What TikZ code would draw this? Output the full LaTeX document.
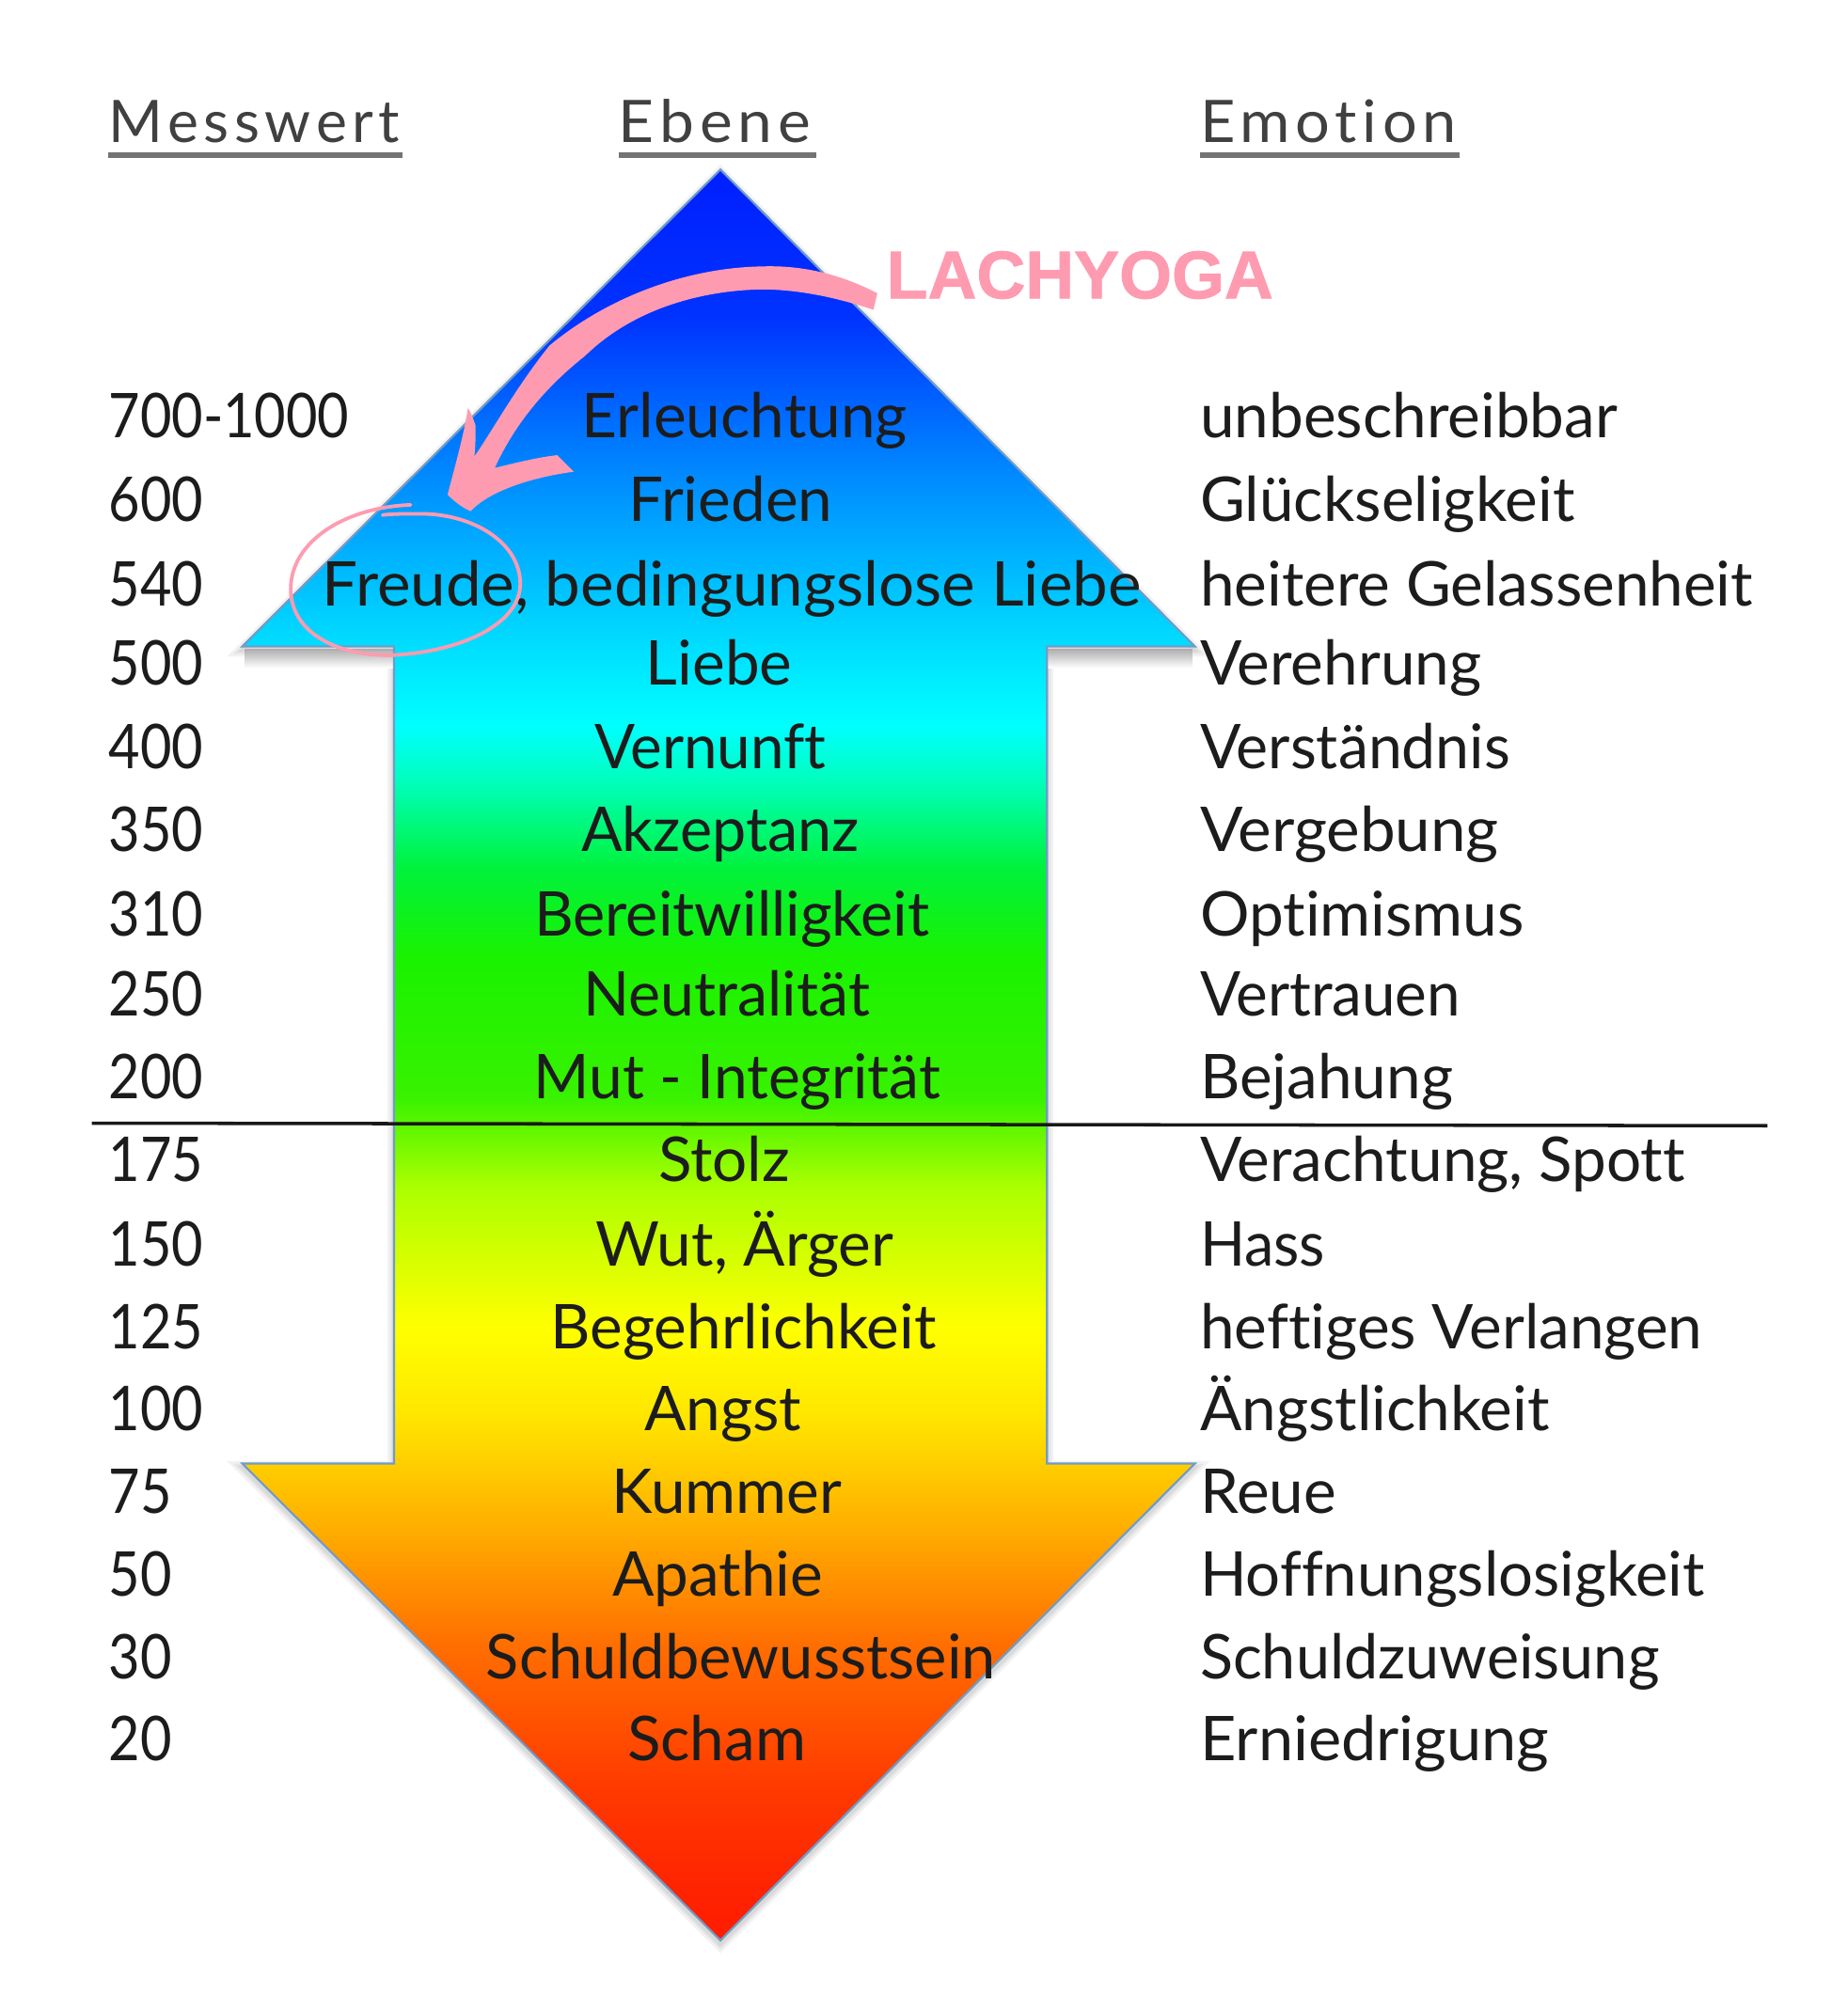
\documentclass[tikz,border=0pt]{standalone}
\usepackage{fontspec}
\setmainfont[Ligatures=NoCommon]{Lato}
\newfontfamily\headfont[LetterSpace=9,Ligatures=NoCommon]{Lato}
\newfontfamily\digitfont[FakeStretch=0.88,Numbers=Lining]{Lato}
\newfontfamily\lachfont[FakeBold=1.1]{Liberation Sans}
\usetikzlibrary{calc}
\definecolor{pinkmark}{HTML}{FF9BB0}
\definecolor{textdark}{HTML}{1C1C1C}
\definecolor{edgeblue}{HTML}{6F9CC8}
\pgfdeclareverticalshading{rainbowarrow}{100bp}{
rgb(0bp)=(1,.11,0);
rgb(25bp)=(1,.11,0);
rgb(26.5bp)=(1,.14,0);
rgb(29.4bp)=(1,.23,0);
rgb(33.3bp)=(1,.43,0);
rgb(36.9bp)=(1,.70,0);
rgb(39.8bp)=(1,.90,0);
rgb(42.3bp)=(1,1,0);
rgb(46.3bp)=(.67,1,0);
rgb(48.8bp)=(.22,.95,0);
rgb(52.8bp)=(.10,.95,0);
rgb(55.3bp)=(0,.95,.24);
rgb(57.8bp)=(0,1,.75);
rgb(59.3bp)=(0,1,1);
rgb(61.4bp)=(0,.88,1);
rgb(65.4bp)=(0,.61,1);
rgb(67.9bp)=(0,.43,1);
rgb(70.8bp)=(0,.20,1);
rgb(75bp)=(0,.12,1);
rgb(100bp)=(0,.12,1)}
\tikzset{
  rowtext/.style={font=\fontsize{48.4}{54}\selectfont, text=textdark, inner sep=0pt},
  leftcol/.style={rowtext, anchor=base west},
  numcol/.style={rowtext, font=\digitfont\fontsize{48.4}{54}\selectfont, anchor=base west},
  midcol/.style={rowtext, anchor=base},
  head/.style={font=\headfont\fontsize{46}{52}\selectfont, text=black!75, inner sep=0pt, anchor=base west},
  headline/.style={draw=black!55, line width=4.5pt},
  pinkfill/.style={fill=pinkmark, draw=none},
  pinkline/.style={draw=pinkmark, line width=2.8pt, line cap=round, fill=none},
  softedge/.style={draw=black, opacity=.05, line join=miter, fill=none}
}
\newcommand{\arrowoutline}{(565,133) -- (937,507) -- (821,507) -- (821,1148) -- (937,1148) -- (565,1522) -- (190,1148) -- (309,1148) -- (309,507) -- (190,507) -- cycle}
\newcommand{\sx}[2]{\scalebox{#1}[1]{#2}}
\begin{document}
\begin{tikzpicture}[x=1pt,y=-1pt]
\useasboundingbox (0,0) rectangle (1449,1568);
\fill[white] (0,0) rectangle (1449,1568);
% headers
\node[head] (hM) at (85,112) {Messwert};
\node[head] (hE) at (485,112) {\sx{1.055}{Ebene}};
\node[head] (hF) at (941,112) {\sx{1.04}{Emotion}};
\coordinate (uM1) at (85,122); \coordinate (uM2) at (316,122);
\coordinate (uE1) at (485,122); \coordinate (uE2) at (640,122);
\coordinate (uF1) at (941,122); \coordinate (uF2) at (1145,122);
\draw[headline] (uM1) -- (uM2);
\draw[headline] (uE1) -- (uE2);
\draw[headline] (uF1) -- (uF2);
% soft shadows
\begin{scope}[yshift=-3pt]
\draw[softedge, line width=10pt] \arrowoutline;
\draw[softedge, line width=6pt] \arrowoutline;
\draw[softedge, line width=3pt] \arrowoutline;
\end{scope}
\shade[top color=black!32, bottom color=white] (192,509) rectangle (309,524);
\shade[top color=black!32, bottom color=white] (821,509) rectangle (935,524);
% arrow
\path[shading=rainbowarrow, draw=edgeblue, line width=1.6pt, line join=miter] \arrowoutline;
% divider
\coordinate (divL) at (72,881); \coordinate (divR) at (1386,883);
\draw[black!90, line width=2.6pt] (divL) -- (divR);
% rows: left column
\foreach \nm/\t/\yy/\xx in {a/700-1000/343/85, b/600/409/85, c/540/475/85, d/500/537/85, e/400/603/85, f/350/668/85, g/310/734/85, h/250/797/85, i/200/862/85, j/175/927/85, k/150/993/85, l/125/1058/85, m/100/1122/85, n/75/1187/85, o/50/1252/85, p/30/1317/85, q/20/1381/85}
  \node[numcol] (m\nm) at (\xx,\yy) {\t};
% rows: middle column
\node[midcol] (ea) at (584,343) {Erleuchtung};
\node[midcol] (eb) at (573,409) {Frieden};
\node[midcol] (ec) at (574,475) {\sx{1.025}{Freude, bedingungslose Liebe}};
\node[midcol] (ed) at (564,537) {Liebe};
\node[midcol] (ee) at (557,603) {\sx{.97}{Vernunft}};
\node[midcol] (ef) at (565,668) {\sx{.985}{Akzeptanz}};
\node[midcol] (eg) at (574,734) {\sx{.985}{Bereitwilligkeit}};
\node[midcol] (eh) at (570,797) {\sx{.98}{Neutralität}};
\node[midcol] (ei) at (578,862) {\sx{.975}{Mut - Integrität}};
\node[midcol] (ej) at (568,927) {Stolz};
\node[midcol] (ek) at (584,993) {Wut, Ärger};
\node[midcol] (el) at (583,1058) {Begehrlichkeit};
\node[midcol] (em) at (567,1122) {Angst};
\node[midcol] (en) at (570,1187) {Kummer};
\node[midcol] (eo) at (563,1252) {Apathie};
\node[midcol] (ep) at (581,1317) {\sx{.99}{Schuldbewusstsein}};
\node[midcol] (eq) at (562,1381) {Scham};
% rows: right column
\node[leftcol] (fa) at (941,343) {unbeschreibbar};
\node[leftcol] (fb) at (941,409) {Glückseligkeit};
\node[leftcol] (fc) at (941,475) {heitere Gelassenheit};
\node[leftcol] (fd) at (941,537) {Verehrung};
\node[leftcol] (fe) at (941,603) {\sx{.98}{Verständnis}};
\node[leftcol] (ff) at (941,668) {\sx{1.026}{Vergebung}};
\node[leftcol] (fg) at (941,734) {Optimismus};
\node[leftcol] (fh) at (941,797) {\sx{.97}{Vertrauen}};
\node[leftcol] (fi) at (941,862) {Bejahung};
\node[leftcol] (fj) at (941,927) {Verachtung, Spott};
\node[leftcol] (fk) at (941,993) {\sx{.96}{Hass}};
\node[leftcol] (fl) at (941,1058) {heftiges Verlangen};
\node[leftcol] (fm) at (941,1122) {Ängstlichkeit};
\node[leftcol] (fn) at (941,1187) {Reue};
\node[leftcol] (fo) at (941,1252) {\sx{.993}{Hoffnungslosigkeit}};
\node[leftcol] (fp) at (941,1317) {\sx{.985}{Schuldzuweisung}};
\node[leftcol] (fq) at (941,1381) {\sx{1.015}{Erniedrigung}};
% pink annotation
\node[font=\lachfont\bfseries\fontsize{53}{60}\selectfont, text=pinkmark, inner sep=0pt, anchor=base west] (lach) at (695,234) {LACHYOGA};
\path[pinkfill]
  (688,230) .. controls (655,213) and (625,208) .. (597,209)
  .. controls (540,210) and (478,232) .. (431,271)
  .. controls (405,303) and (383,343) .. (372,358)
  .. controls (373,350) and (373,340) .. (373,334)
  .. controls (371,328) and (369,323) .. (367,320)
  .. controls (364,340) and (357,365) .. (351,388)
  .. controls (356,393) and (362,398) .. (369,401)
  .. controls (385,384) and (420,374) .. (450,370)
  -- (437,357)
  .. controls (420,359) and (405,363) .. (388,367)
  .. controls (405,330) and (430,302) .. (459,279)
  .. controls (497,242) and (550,228) .. (597,227)
  .. controls (625,227) and (655,233) .. (685,243) -- cycle;
\path[pinkline]
  (322,396) .. controls (270,398) and (228,425) .. (228,462)
  .. controls (228,495) and (262,514) .. (305,514)
  .. controls (360,512) and (408,490) .. (408,458)
  .. controls (408,425) and (370,403) .. (330,403)
  .. controls (318,403) and (308,403) .. (300,404);
\end{tikzpicture}
\end{document}
